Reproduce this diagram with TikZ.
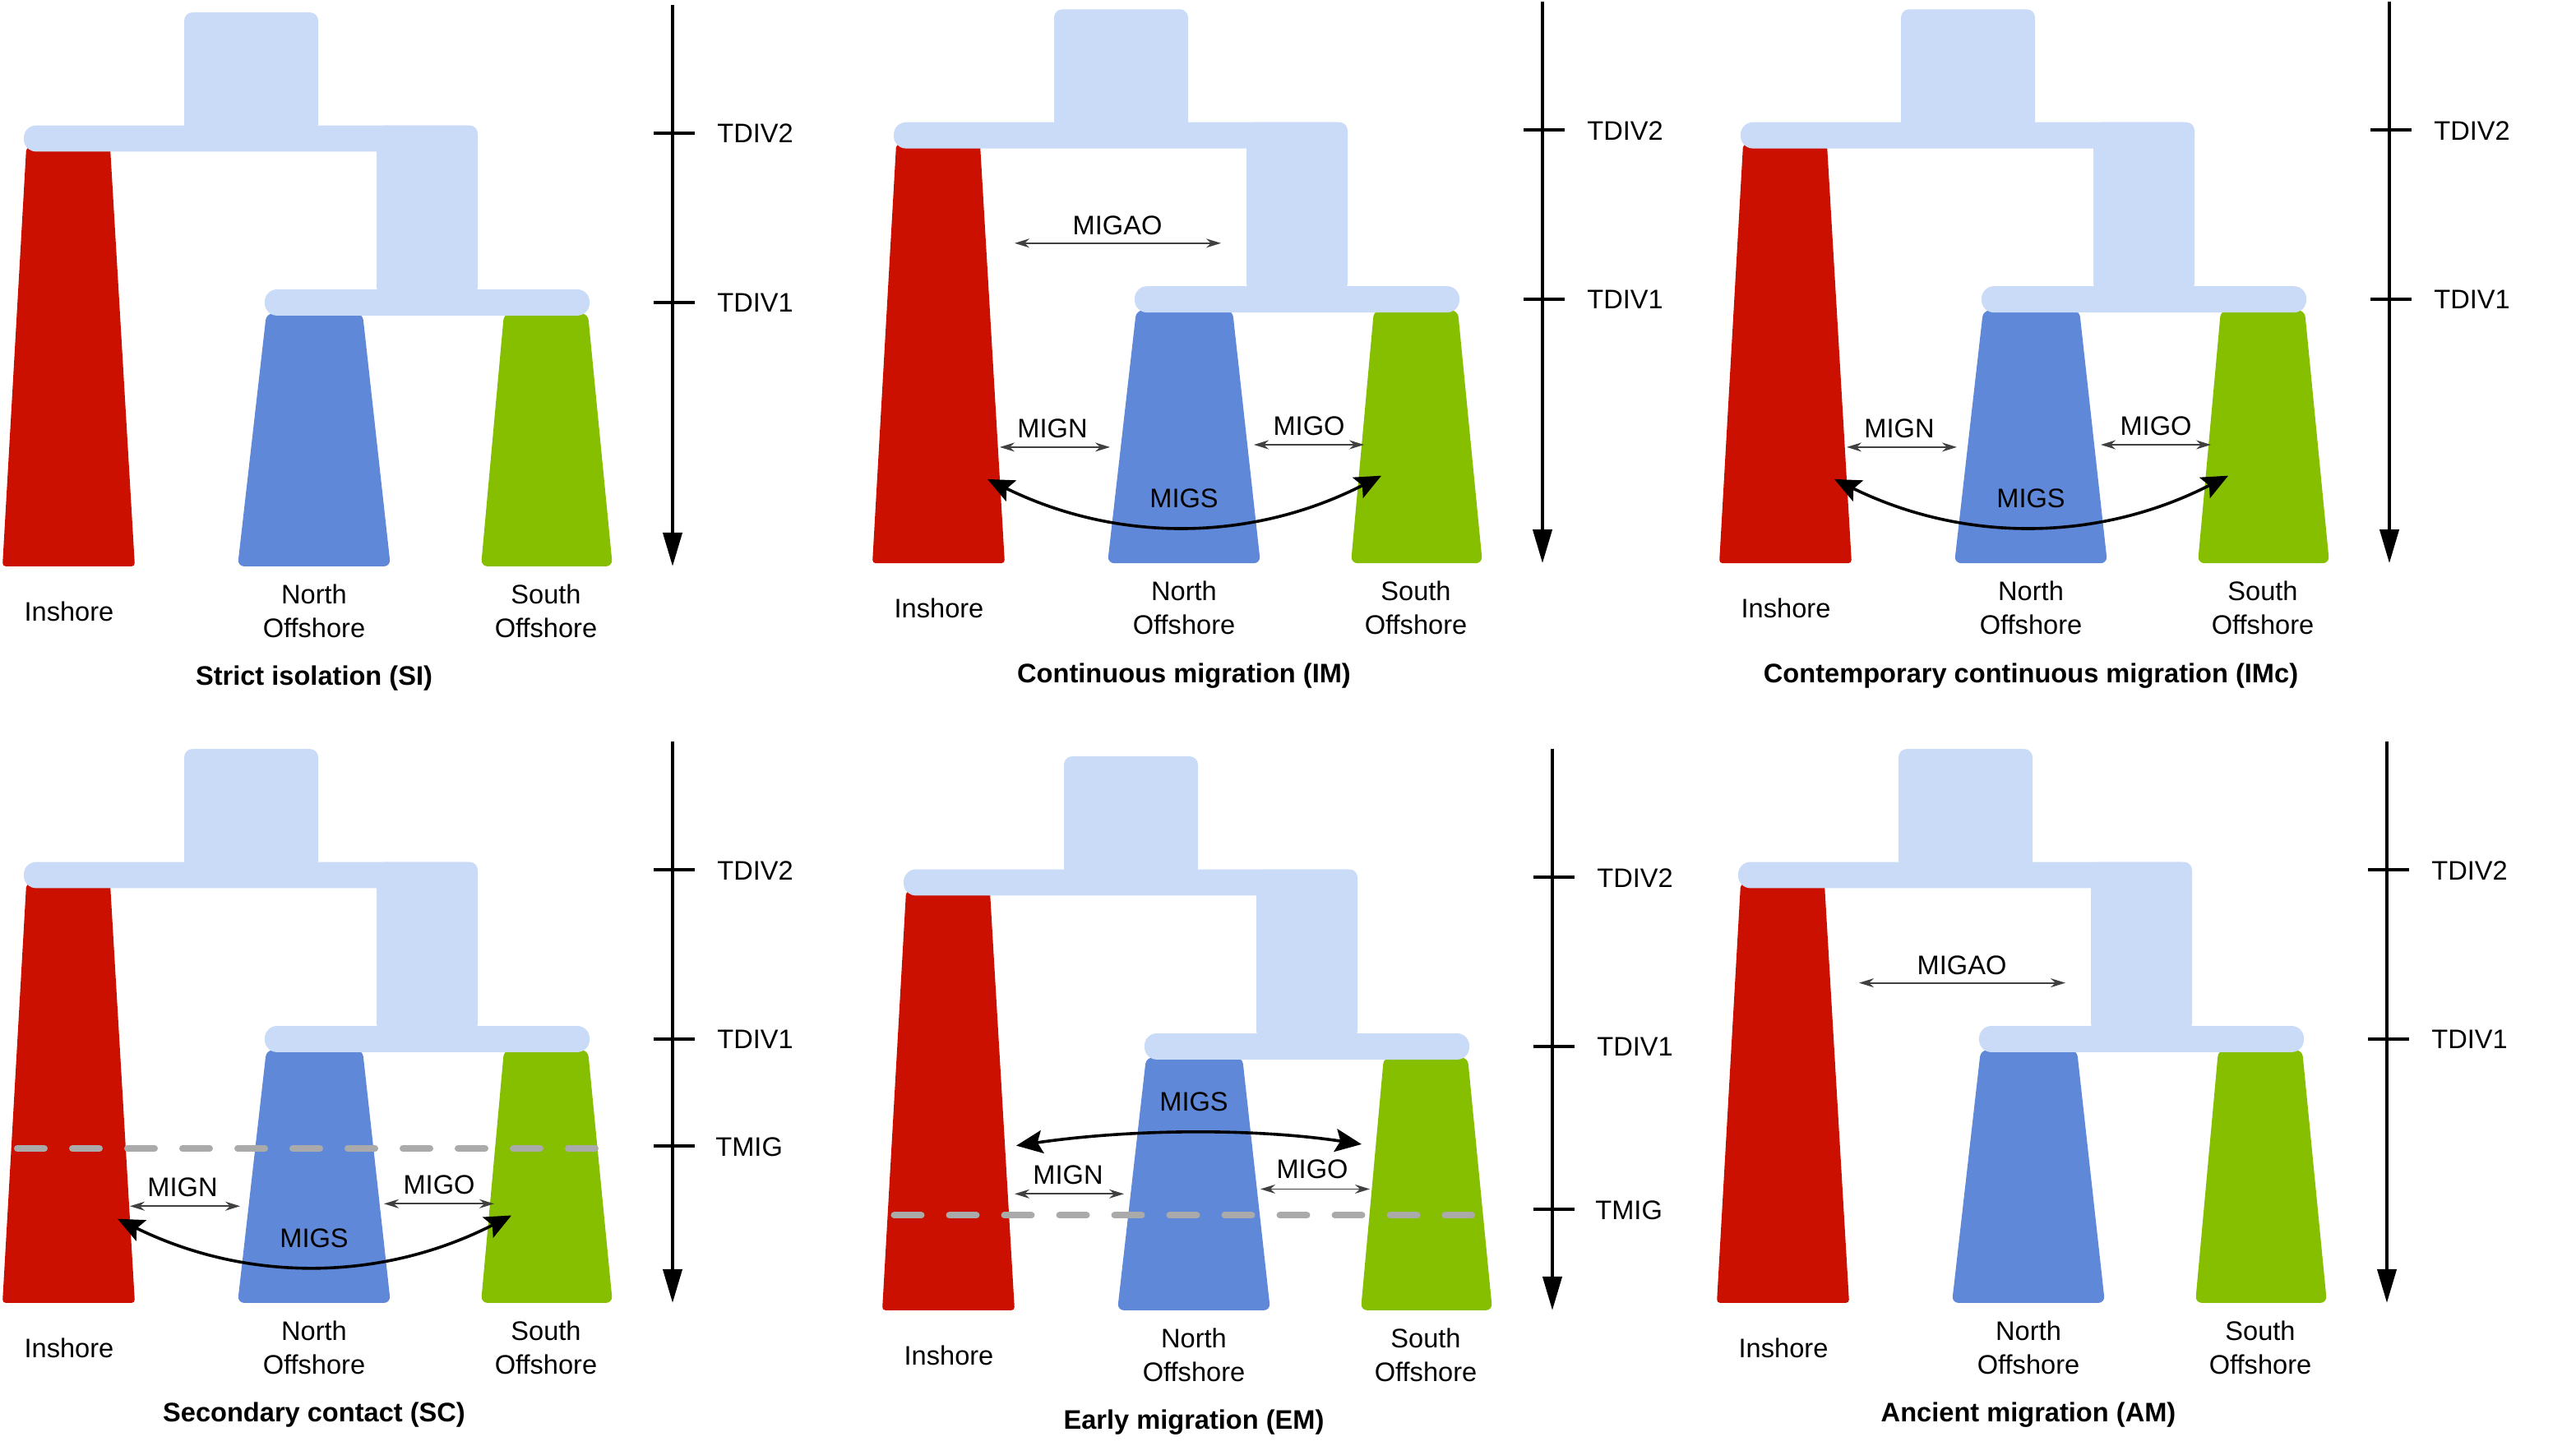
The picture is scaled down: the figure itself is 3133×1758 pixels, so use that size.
\documentclass[tikz,border=0pt]{standalone}
\usepackage{fontspec}
\setmainfont{Liberation Sans}
\usetikzlibrary{arrows.meta}
\definecolor{cred}{RGB}{204,16,0}
\definecolor{cblue}{RGB}{95,137,216}
\definecolor{cgreen}{RGB}{134,190,0}
\definecolor{clight}{RGB}{201,219,247}
\definecolor{cdash}{RGB}{170,170,170}
\definecolor{cmig}{RGB}{64,64,64}
\tikzset{
  lab/.style={font=\fontsize{16.3pt}{20.5pt}\selectfont, inner sep=0pt, align=center},
  ttl/.style={font=\fontsize{16.3pt}{20.5pt}\selectfont\bfseries, inner sep=0pt, align=center},
  timeaxis/.style={line width=2pt, -{Triangle[length=20.5pt,width=11.5pt]}},
  tickmark/.style={line width=1.8pt},
  migsmall/.style={cmig, line width=0.9pt, {Stealth[length=9pt,width=5.5pt]}-{Stealth[length=9pt,width=5.5pt]}},
  migbig/.style={black, line width=1.8pt, {Stealth[length=16pt,width=14pt,inset=3pt]}-{Stealth[length=16pt,width=14pt,inset=3pt]}},
  tmigline/.style={cdash, line width=4pt, line cap=round, dash pattern=on 16.5pt off 17pt},
  anc/.style={fill=clight},
}
\newcommand\drawtree[1]{%
  \fill[cred, rounded corners=2pt] (32,179.4) -- (134,179.4) -- (164,688.9) -- (3,688.9) -- cycle;
  \fill[cblue, rounded corners=4pt] (324,381.3) -- (441,381.3) -- (475,688.9) -- (289,688.9) -- cycle;
  \fill[cgreen, rounded corners=4pt] (613,381.3) -- (715,381.3) -- (745,688.9) -- (585,688.9) -- cycle;
  \fill[anc, rounded corners=5pt] (224,15.1) rectangle (387,161);
  \fill[anc, rounded corners=7.5pt] (29,152.5) rectangle (581,184.4);
  \fill[anc, rounded corners=5pt] (458,152.5) rectangle (581,358.7);
  \fill[anc, rounded corners=7.5pt] (322,352) rectangle (717,383.9);
  \coordinate (#1axtop) at (818,5.9);
  \coordinate (#1axbot) at (818,688.9);
  \draw[timeaxis] (#1axtop) -- (#1axbot);
  \coordinate (#1tbl) at (795,161.8); \coordinate (#1tbr) at (845,161.8);
  \coordinate (#1tal) at (795,367.9); \coordinate (#1tar) at (845,367.9);
  \draw[tickmark] (#1tbl) -- (#1tbr);
  \draw[tickmark] (#1tal) -- (#1tar);
  \node[lab, anchor=west] (#1tdivb) at (872,162.6) {TDIV2};
  \node[lab, anchor=west] (#1tdiva) at (872,367.9) {TDIV1};
  \node[lab] (#1ins) at (84,743.4) {Inshore};
  \node[lab] (#1north) at (382,743) {North\\Offshore};
  \node[lab] (#1south) at (664,743) {South\\Offshore};
}
\newcommand\migao[1]{%
  \coordinate (#1aoL) at (176,299.6); \coordinate (#1aoR) at (427,299.6);
  \draw[migsmall] (#1aoL) -- (#1aoR);
  \node[lab] (#1aolab) at (301,278.2) {MIGAO};
}
\newcommand\mignos[2]{% #1 prefix, #2 vertical offset of MIGN/MIGO
  \coordinate (#1nL) at (158,547.7+#2); \coordinate (#1nR) at (292,547.7+#2);
  \draw[migsmall] (#1nL) -- (#1nR);
  \node[lab] (#1nlab) at (222,524.6+#2) {MIGN};
  \coordinate (#1oL) at (467,544.8+#2); \coordinate (#1oR) at (601,544.8+#2);
  \draw[migsmall] (#1oL) -- (#1oR);
  \node[lab] (#1olab) at (534,522.1+#2) {MIGO};
  \coordinate (#1sL) at (143,586.7); \coordinate (#1sR) at (622,582.5);
  \draw[migbig] (#1sL) .. controls (300,663.8) and (463,663.8) .. (#1sR);
  \node[lab] (#1slab) at (382,610.1) {MIGS};
}
\begin{document}
\begin{tikzpicture}[x=0.5pt,y=-0.5pt]
\useasboundingbox (0,0) rectangle (3133,1758);
% Strict isolation
\begin{scope}[shift={(0,0)}]
  \drawtree{a}
  \node[ttl] (attl) at (382,825.5) {Strict isolation (SI)};
\end{scope}
% Continuous migration
\begin{scope}[shift={(1058,-3.8)}]
  \drawtree{b}
  \migao{b}
  \mignos{b}{0}
  \node[ttl] (bttl) at (382,825.5) {Continuous migration (IM)};
\end{scope}
% Contemporary continuous migration
\begin{scope}[shift={(2088,-3.8)}]
  \drawtree{c}
  \mignos{c}{0}
  \node[ttl] (cttl) at (382,825.5) {Contemporary continuous migration (IMc)};
\end{scope}
% Secondary contact
\begin{scope}[shift={(0,896)}]
  \drawtree{d}
  \coordinate (dtmL) at (21,501.2); \coordinate (dtmR) at (725,501.2);
  \draw[tmigline] (dtmL) -- (dtmR);
  \coordinate (dtml) at (795,497.8); \coordinate (dtmr) at (845,497.8);
  \draw[tickmark] (dtml) -- (dtmr);
  \node[lab, anchor=west] (dtmig) at (870,499.5) {TMIG};
  \mignos{d}{23.5}
  \node[ttl] (dttl) at (382,825.5) {Secondary contact (SC)};
\end{scope}
% Early migration
\begin{scope}[shift={(1070,905)}]
  \drawtree{e}
  \coordinate (etmL) at (17.5,573.3); \coordinate (etmR) at (720,573.3);
  \draw[tmigline] (etmL) -- (etmR);
  \coordinate (etml) at (795,565.7); \coordinate (etmr) at (845,565.7);
  \draw[tickmark] (etml) -- (etmr);
  \node[lab, anchor=west] (etmig) at (870,567.4) {TMIG};
  \coordinate (enL) at (164,547.3); \coordinate (enR) at (297,547.3);
  \draw[migsmall] (enL) -- (enR);
  \node[lab] (enlab) at (229,523.8) {MIGN};
  \coordinate (eoL) at (463,541.4); \coordinate (eoR) at (596,541.4);
  \draw[migsmall] (eoL) -- (eoR);
  \node[lab] (eolab) at (526,517.1) {MIGO};
  \coordinate (esL) at (166,488.6); \coordinate (esR) at (586,486.9);
  \draw[migbig] (esL) .. controls (310,467.7) and (458,467.7) .. (esR);
  \node[lab] (eslab) at (382,435) {MIGS};
  \node[ttl] (ettl) at (382,825.5) {Early migration (EM)};
\end{scope}
% Ancient migration
\begin{scope}[shift={(2085,896)}]
  \drawtree{f}
  \migao{f}
  \node[ttl] (fttl) at (382,825.5) {Ancient migration (AM)};
\end{scope}
\end{tikzpicture}
\end{document}
